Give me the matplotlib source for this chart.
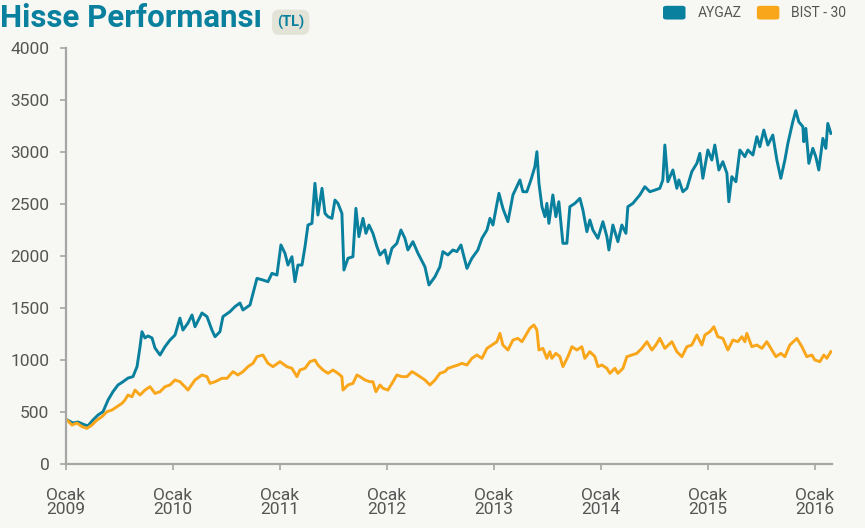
import numpy as np
import matplotlib
matplotlib.use("Agg")
import matplotlib.pyplot as plt
from matplotlib.patches import FancyBboxPatch

# years since January 2009
aygaz_t = [0.000, 0.065, 0.112, 0.178, 0.206, 0.252, 0.299, 0.346, 0.393, 0.439, 0.486, 0.533,
           0.579, 0.626, 0.664, 0.692, 0.710, 0.738, 0.766, 0.804, 0.832, 0.879, 0.925, 0.972,
           1.019, 1.065, 1.093, 1.140, 1.178, 1.206, 1.271, 1.318, 1.364, 1.393, 1.439, 1.467,
           1.533, 1.579, 1.626, 1.654, 1.720, 1.748, 1.785, 1.841, 1.888, 1.925, 1.972, 2.009,
           2.047, 2.075, 2.112, 2.140, 2.168, 2.206, 2.234, 2.262, 2.299, 2.327, 2.355, 2.393,
           2.421, 2.449, 2.486, 2.514, 2.542, 2.579, 2.598, 2.636, 2.682, 2.710, 2.738, 2.776,
           2.804, 2.832, 2.869, 2.907, 2.935, 2.981, 3.009, 3.047, 3.093, 3.131, 3.168, 3.196,
           3.243, 3.290, 3.355, 3.393, 3.449, 3.495, 3.523, 3.570, 3.617, 3.654, 3.692, 3.748,
           3.794, 3.850, 3.888, 3.935, 3.963, 3.991, 4.047, 4.084, 4.131, 4.178, 4.243, 4.271,
           4.308, 4.346, 4.383, 4.402, 4.421, 4.449, 4.477, 4.495, 4.514, 4.551, 4.579, 4.607,
           4.645, 4.682, 4.710, 4.757, 4.804, 4.832, 4.869, 4.897, 4.925, 4.972, 5.019, 5.056,
           5.075, 5.112, 5.159, 5.196, 5.234, 5.252, 5.299, 5.364, 5.411, 5.458, 5.505, 5.551,
           5.579, 5.598, 5.626, 5.673, 5.710, 5.729, 5.766, 5.804, 5.850, 5.897, 5.925, 5.953,
           6.000, 6.037, 6.065, 6.103, 6.140, 6.178, 6.196, 6.224, 6.262, 6.299, 6.346, 6.374,
           6.421, 6.458, 6.486, 6.523, 6.561, 6.607, 6.645, 6.682, 6.720, 6.748, 6.794, 6.822,
           6.850, 6.888, 6.897, 6.916, 6.944, 6.981, 7.009, 7.037, 7.075, 7.103, 7.121, 7.150]
aygaz = [430, 394, 404, 375, 368, 423, 471, 503, 615, 695, 760, 791,
         826, 840, 936, 1128, 1272, 1212, 1231, 1212, 1115, 1048, 1128, 1192,
         1240, 1403, 1288, 1355, 1433, 1320, 1452, 1417, 1288, 1224, 1272, 1417,
         1465, 1513, 1548, 1481, 1529, 1641, 1785, 1769, 1753, 1833, 1817, 2106,
         2026, 1913, 1993, 1753, 1913, 1913, 2089, 2298, 2314, 2699, 2394, 2651,
         2410, 2378, 2362, 2538, 2506, 2410, 1865, 1978, 1993, 2458, 2186, 2362,
         2218, 2298, 2218, 2089, 2010, 2058, 1929, 2074, 2122, 2250, 2170, 2058,
         2138, 2026, 1897, 1721, 1801, 1897, 2042, 2010, 2058, 2042, 2106, 1881,
         1978, 2058, 2170, 2250, 2362, 2298, 2603, 2458, 2330, 2587, 2731, 2618,
         2618, 2731, 2859, 3003, 2700, 2474, 2378, 2506, 2314, 2587, 2378, 2522,
         2122, 2122, 2474, 2506, 2554, 2442, 2234, 2346, 2250, 2170, 2330, 2186,
         2058, 2298, 2138, 2298, 2218, 2474, 2506, 2587, 2666, 2618, 2634, 2651,
         2731, 3067, 2714, 2827, 2651, 2731, 2618, 2651, 2811, 2891, 2987, 2747,
         3019, 2923, 3067, 2827, 2907, 2795, 2522, 2763, 2714, 3019, 2955, 3019,
         2971, 3147, 3051, 3211, 3067, 3163, 2923, 2747, 2923, 3083, 3291, 3397,
         3291, 3243, 3099, 3227, 2891, 3035, 2955, 2827, 3131, 3035, 3275, 3179]

bist_t = [0.009, 0.056, 0.103, 0.150, 0.196, 0.243, 0.290, 0.336, 0.383, 0.430, 0.477, 0.523,
          0.551, 0.579, 0.617, 0.645, 0.692, 0.738, 0.785, 0.832, 0.879, 0.925, 0.972, 1.019,
          1.065, 1.112, 1.140, 1.206, 1.271, 1.318, 1.346, 1.393, 1.458, 1.505, 1.561, 1.607,
          1.654, 1.701, 1.748, 1.785, 1.841, 1.888, 1.935, 2.000, 2.065, 2.112, 2.159, 2.187,
          2.234, 2.280, 2.327, 2.355, 2.402, 2.449, 2.495, 2.542, 2.579, 2.589, 2.636, 2.682,
          2.720, 2.748, 2.794, 2.841, 2.869, 2.897, 2.935, 2.963, 3.009, 3.047, 3.093, 3.140,
          3.187, 3.234, 3.262, 3.308, 3.355, 3.402, 3.449, 3.495, 3.542, 3.570, 3.617, 3.664,
          3.701, 3.748, 3.794, 3.841, 3.888, 3.935, 3.981, 4.028, 4.056, 4.084, 4.131, 4.178,
          4.224, 4.262, 4.290, 4.336, 4.374, 4.402, 4.421, 4.458, 4.495, 4.523, 4.542, 4.579,
          4.617, 4.645, 4.692, 4.729, 4.776, 4.822, 4.850, 4.897, 4.944, 4.972, 5.009, 5.056,
          5.084, 5.131, 5.159, 5.206, 5.243, 5.290, 5.336, 5.383, 5.430, 5.477, 5.514, 5.551,
          5.598, 5.664, 5.710, 5.757, 5.804, 5.850, 5.897, 5.944, 5.972, 6.019, 6.056, 6.093,
          6.140, 6.187, 6.234, 6.280, 6.318, 6.346, 6.364, 6.411, 6.458, 6.505, 6.551, 6.598,
          6.636, 6.682, 6.720, 6.766, 6.832, 6.879, 6.925, 6.972, 7.000, 7.047, 7.084, 7.112,
          7.150]
bist = [423, 375, 394, 359, 343, 375, 423, 455, 503, 519, 551, 583,
        615, 663, 647, 711, 663, 711, 743, 679, 695, 743, 760, 808,
        791, 743, 711, 808, 856, 840, 775, 791, 824, 824, 888, 856,
        888, 936, 968, 1032, 1048, 968, 936, 984, 936, 920, 840, 904,
        920, 984, 1000, 952, 904, 872, 904, 872, 840, 711, 760, 775,
        856, 840, 808, 791, 791, 695, 760, 728, 711, 775, 856, 840,
        840, 888, 872, 840, 808, 760, 808, 872, 888, 920, 936, 952,
        968, 952, 1016, 1048, 1016, 1112, 1144, 1176, 1256, 1144, 1096, 1192,
        1208, 1176, 1224, 1305, 1337, 1288, 1096, 1112, 1016, 1080, 1016, 1064,
        1032, 936, 1032, 1128, 1096, 1128, 1016, 1080, 1032, 936, 952, 920,
        872, 920, 872, 920, 1032, 1048, 1064, 1112, 1176, 1096, 1144, 1208,
        1112, 1176, 1080, 1032, 1128, 1144, 1240, 1144, 1240, 1272, 1320, 1224,
        1208, 1096, 1192, 1176, 1224, 1176, 1256, 1128, 1144, 1112, 1176, 1096,
        1032, 1064, 1032, 1144, 1208, 1128, 1032, 1048, 1000, 984, 1048, 1016,
        1080]

years = list(range(2009, 2017))
teal = "#08809e"
orange = "#f9a61a"
grey = "#555555"
bg = "#f7f7f3"
font = ["Roboto", "DejaVu Sans"]

fig = plt.figure(figsize=(8.65, 5.28), dpi=100, facecolor=bg)
ax = fig.add_axes([0.0763, 0.1212, 0.8855, 0.7879], facecolor=bg)

ax.plot(2009 + np.array(aygaz_t), aygaz, color=teal, lw=2.1, solid_joinstyle="round")
ax.plot(2009 + np.array(bist_t), bist, color=orange, lw=2.1, solid_joinstyle="round")

ax.set_xlim(2009, 2016.16)
ax.set_ylim(0, 4000)
ax.set_yticks(range(0, 4001, 500))
ax.set_yticklabels([str(v) for v in range(0, 4001, 500)], family=font, fontsize=12.5, color=grey)
ax.set_xticks(years)
ax.set_xticklabels(["Ocak\n%d" % y for y in years], family=font, fontsize=12.5, color=grey,
                   linespacing=0.95)
for side in ["top", "right"]:
    ax.spines[side].set_visible(False)
for side in ["left", "bottom"]:
    ax.spines[side].set_color("#a6a6a6")
    ax.spines[side].set_linewidth(1.6)
ax.tick_params(colors="#a6a6a6", length=4, width=1.2)
ax.tick_params(axis="x", pad=13, labelcolor=grey)
ax.tick_params(axis="y", pad=8, labelcolor=grey)

# title
fig.text(0.0, 0.995, "Hisse Performansı", family=font,
         fontweight="bold", fontsize=22.5, color=teal, va="top", ha="left")
fig.text(0.336, 0.972, "(TL)", family=font, fontweight="bold", fontsize=10.5, color=teal,
         va="top", ha="center",
         bbox=dict(boxstyle="round,pad=0.35,rounding_size=0.5", fc="#e3e3d8", ec="none"))

# legend
for x0, label, c in [(0.7665, "AYGAZ", teal), (0.875, "BIST - 30", orange)]:
    fig.patches.append(FancyBboxPatch((x0, 0.963), 0.026, 0.026, boxstyle="round,pad=0,rounding_size=0.004",
                                      transform=fig.transFigure, fc=c, ec="none"))
    fig.text(x0 + 0.04, 0.976, label, family=font, fontsize=10, color=grey, va="center", ha="left")

fig.savefig("out.png", dpi=100, facecolor=bg)
